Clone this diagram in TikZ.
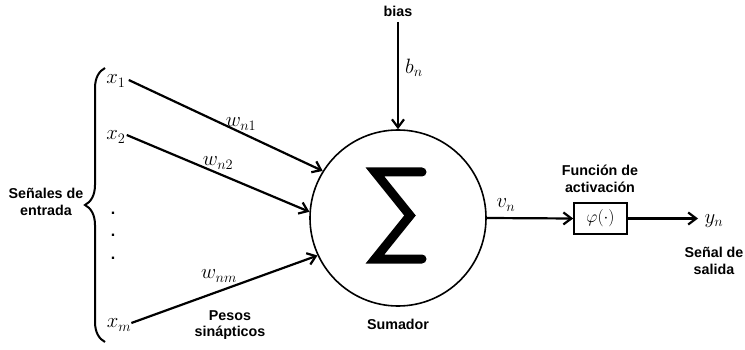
\documentclass[tikz,border=0pt]{standalone}
\usepackage{fontspec}
\setsansfont{Liberation Sans}
\usetikzlibrary{arrows.meta,decorations.pathreplacing}
\begin{document}
\begin{tikzpicture}[x=1pt,y=-1pt,
  lbl/.style={font=\sffamily\bfseries\fontsize{14.3}{16.5}\selectfont,align=center,inner sep=0pt},
  mth/.style={font=\fontsize{20}{23}\selectfont,inner sep=1pt},
  dotn/.style={font=\sffamily\bfseries\fontsize{16}{18}\selectfont,inner sep=0pt},
  arr/.style={line width=2.2pt,-{Straight Barb[length=8pt,width=12pt,line width=2.2pt]}}]
\useasboundingbox (0,0) rectangle (745,350);
% summing junction
\node[draw,circle,line width=1.6pt,minimum size=176pt,inner sep=0pt] (sum) at (398,218) {};
\draw[line width=9pt,line cap=round,line join=miter] (422,172) -- (375,172) -- (410,215.5) -- (375,259) -- (422,259);
\node[lbl] (sumlbl) at (398,324) {Sumador};
% bias
\node[lbl] (bias) at (398,11) {bias};
\coordinate (bstart) at (398,22);
\draw[arr] (bstart) -- (sum.north);
\node[mth] (bn) at (414,68) {$b_n$};
% inputs
\node[mth] (x1) at (116,81) {$x_1$};
\node[mth] (x2) at (116,137) {$x_2$};
\node[mth] (xm) at (119,325) {$x_m$};
\node[dotn] (d1) at (113,213) {.};
\node[dotn] (d2) at (113,235) {.};
\node[dotn] (d3) at (113,258) {.};
\draw[arr] ([xshift=2pt,yshift=1pt]x1.east) -- (sum.148);
\draw[arr] ([xshift=0pt,yshift=2pt]x2.east) -- (sum.176);
\draw[arr] ([xshift=-1pt,yshift=2pt]xm.east) -- (sum.205);
\node[mth] (w1) at (241,124) {$w_{n1}$};
\node[mth] (w2) at (218,163) {$w_{n2}$};
\node[mth] (wm) at (219,276) {$w_{nm}$};
\node[lbl] (pesos) at (230,325) {Pesos\\sinápticos};
% brace
\draw[line width=2pt,decorate,decoration={brace,amplitude=20pt}] (105,342) -- (105,68);
\node[lbl] (senales) at (46,202) {Señales de\\entrada};
% activation
\node[draw,line width=1.6pt,minimum width=53pt,minimum height=31pt,inner sep=0pt,font=\fontsize{19}{22}\selectfont] (phi) at (600.5,218.5) {$\varphi(\cdot)$};
\node[lbl] (func) at (600,179) {Función de\\activación};
\draw[arr] (sum.east) -- (phi.west);
\node[mth] (vn) at (506,205) {$v_n$};
\coordinate (yend) at (698,218.5);
\draw[arr] (phi.east) -- (yend);
\node[mth] (yn) at (714,221) {$y_n$};
\node[lbl] (salida) at (714,261) {Señal de\\salida};
\end{tikzpicture}
\end{document}
